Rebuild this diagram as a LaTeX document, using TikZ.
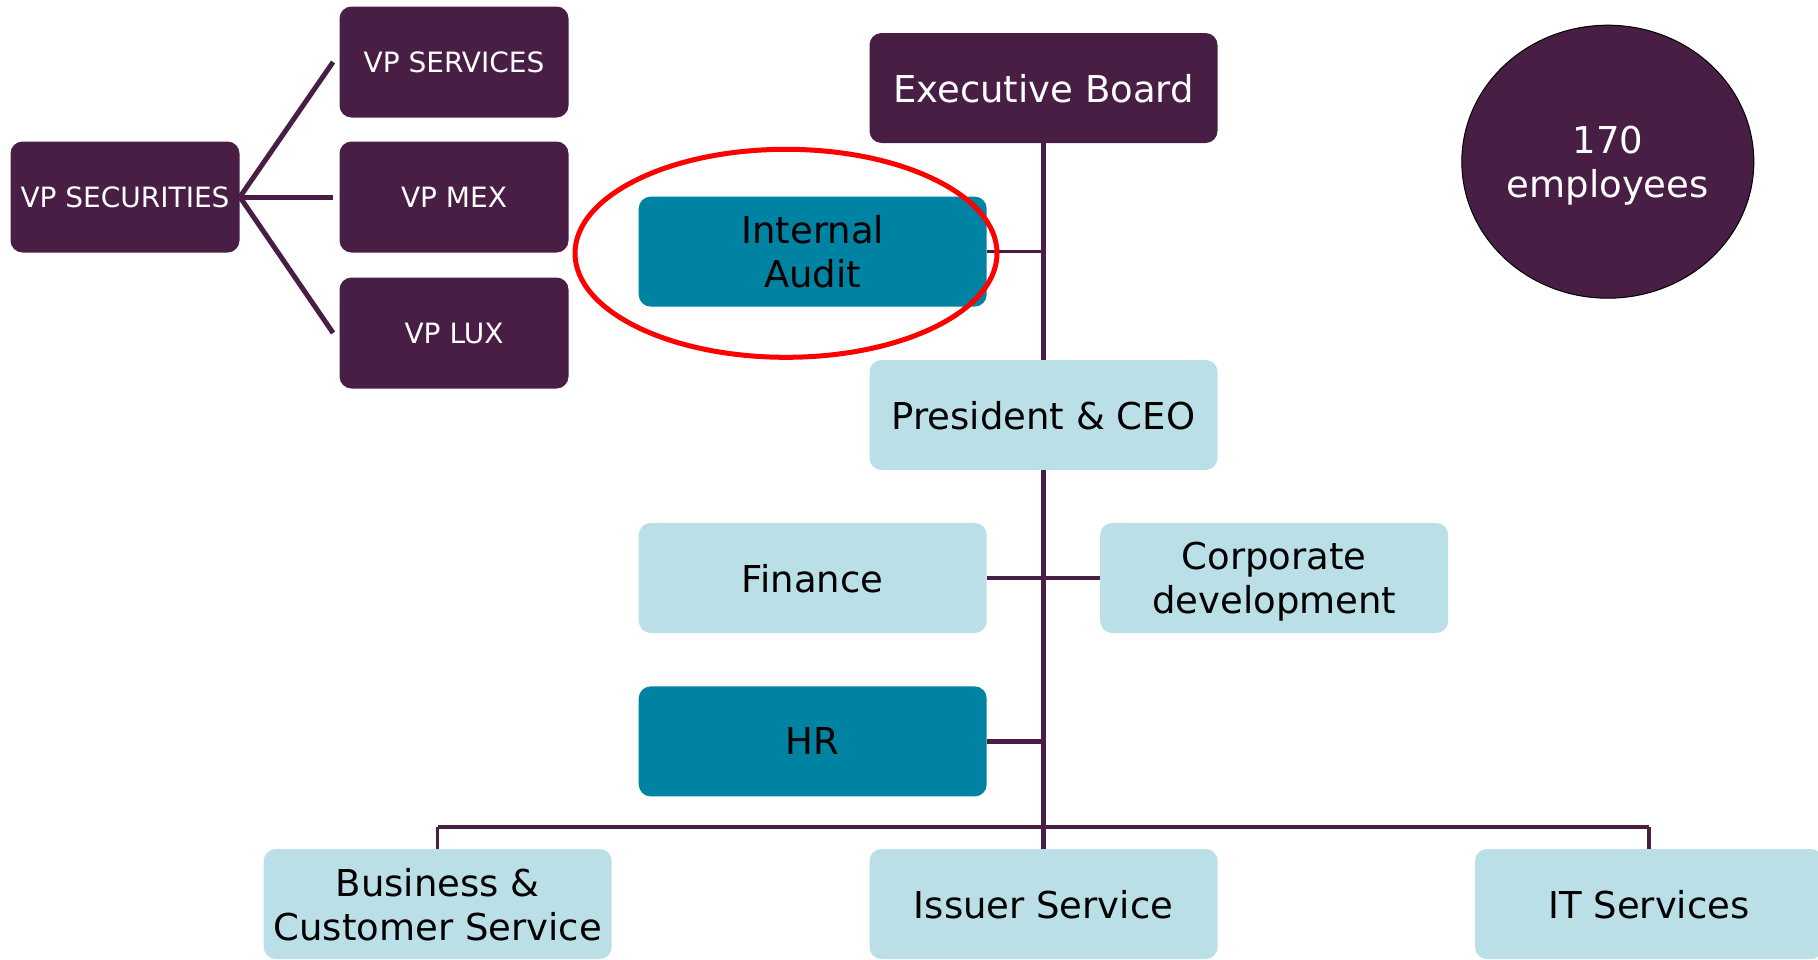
\documentclass[tikz,border=0pt]{standalone}
\usepackage{fontspec}
\setmainfont{DejaVu Sans}
\usetikzlibrary{shapes.geometric}
\definecolor{plum}{RGB}{73,30,68}
\definecolor{petrol}{RGB}{0,130,163}
\definecolor{pale}{RGB}{186,223,231}
\begin{document}
\begin{tikzpicture}[x=0.5pt,y=-0.5pt,
  box/.style={rounded corners=6pt,inner sep=0pt,minimum width=174pt,minimum height=55pt,align=center,text depth=-1.5pt,font=\fontsize{18.5}{22}\selectfont},
  dark/.style={box,fill=plum,text=white},
  mid/.style={box,fill=petrol},
  light/.style={box,fill=pale},
  vp/.style={dark,minimum width=114.5pt,minimum height=55.5pt,text depth=-0.5pt,font=\fontsize{14}{17}\selectfont},
  link/.style={plum,line width=2.3pt},
  stem/.style={plum,line width=1.7pt}]
\useasboundingbox (0,0) rectangle (1818,959);

% securities side
\node[vp](sec) at (125,197) {VP SECURITIES};
\node[vp](ser) at (454,62) {VP SERVICES};
\node[vp](mex) at (454,197) {VP MEX};
\node[vp](lux) at (454,333) {VP LUX};
\foreach \v in {ser,mex,lux}
  \draw[link,line width=2.5pt] (sec.east) -- ([xshift=-3pt]\v.west);

% main chart
\node[dark](eb) at (1043.5,88) {Executive Board};
\node[mid](ia) at (812.7,251.6) {Internal\\Audit};
\node[light](ceo) at (1043.5,415) {President \& CEO};
\node[light](fin) at (812.7,578) {Finance};
\node[light](corp) at (1274.2,578) {Corporate\\development};
\node[mid](hr) at (812.7,741.4) {HR};
\node[light](bcs) at (437.7,904) {Business \&\\Customer Service};
\node[light](iss) at (1043.5,904) {Issuer Service};
\node[light](its) at (1649,904) {IT Services};
\coordinate (bus) at (1043.5,827);

\draw[link] (eb) -- (ceo);
\draw[link] (ceo) -- (iss);
\draw[stem] (ia.east) -- (ia.east -| eb.south);
\draw[link] (fin) -- (corp);
\draw[link] (hr.east) -- (hr.east -| ceo.south);
\draw[link] (bcs |- bus) -- (its |- bus);
\draw[stem] (bcs) -- (bcs |- bus);
\draw[stem] (its) -- (its |- bus);

\node[ellipse,draw=black,line width=0.5pt,fill=plum,text=white,inner sep=0pt,minimum width=146pt,minimum height=136.5pt,align=center,text depth=-3pt,font=\fontsize{18.5}{22}\selectfont](emp) at (1607.8,161.7) {170\\employees};

% highlight
\node[ellipse,draw=red,line width=2.5pt,inner sep=0pt,minimum width=211pt,minimum height=104pt](hl) at (786,253.3) {};
\end{tikzpicture}
\end{document}
